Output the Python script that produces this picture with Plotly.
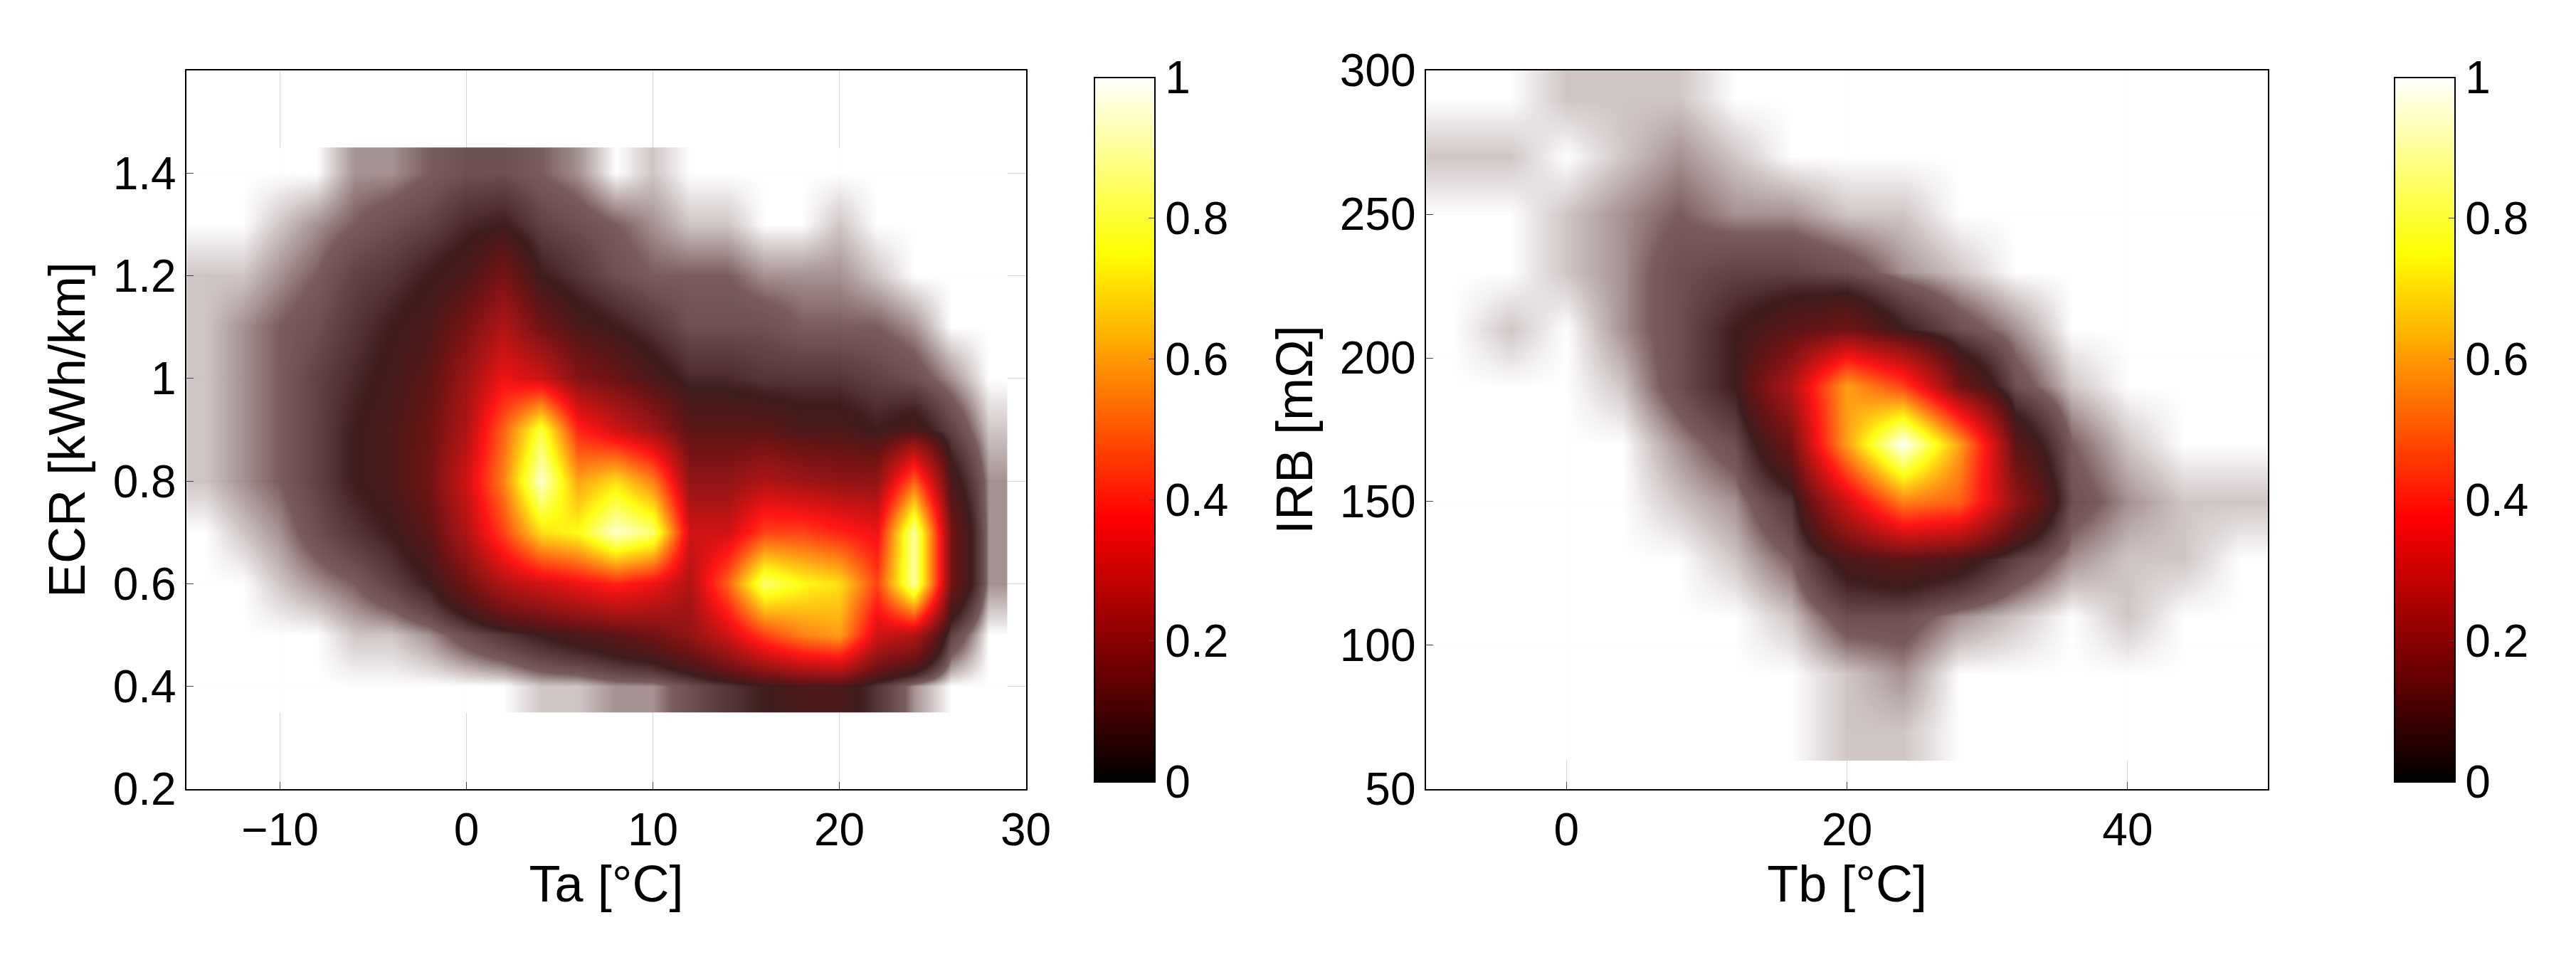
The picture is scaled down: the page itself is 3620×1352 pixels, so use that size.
import plotly.graph_objects as go

N = 0
ta = [-14,-12,-10,-8,-6,-4,-2,0,2,4,6,8,10,12,14,16,18,20,22,24,26,28]
ecr = [0.4,0.5,0.6,0.7,0.8,0.9,1.0,1.1,1.2,1.3,1.4]
dens_left = [
 [N,N,N,N,N,N,N,N,N,.01,.01,.02,.02,.04,.06,.08,.1,.1,.06,.02,N,N],
 [N,N,N,N,.01,.01,.02,.04,.06,.08,.1,.12,.15,.2,.3,.45,.55,.6,.3,.25,.05,N],
 [N,N,.01,.02,.03,.05,.08,.15,.25,.3,.35,.4,.35,.25,.5,.85,.75,.7,.45,.9,.15,.02],
 [N,.01,.02,.04,.06,.08,.12,.25,.45,.7,.75,.95,.85,.3,.3,.45,.45,.4,.35,.9,.15,.02],
 [.01,.02,.03,.05,.08,.1,.15,.3,.55,.95,.6,.7,.55,.2,.2,.25,.22,.2,.2,.5,.1,.02],
 [.01,.02,.03,.05,.08,.1,.14,.25,.5,.8,.4,.3,.22,.12,.12,.12,.1,.1,.08,.1,.05,.01],
 [.01,.02,.03,.05,.07,.09,.12,.22,.35,.3,.18,.14,.1,.07,.07,.06,.06,.06,.05,.04,.02,N],
 [.01,.02,.03,.04,.06,.08,.1,.16,.25,.15,.1,.08,.06,.04,.04,.04,.03,.03,.03,.02,N,N],
 [.01,.01,.02,.03,.05,.06,.08,.1,.16,.08,.06,.04,.03,.03,.03,.02,.02,.02,.01,N,N,N],
 [N,N,.01,.02,.03,.04,.05,.07,.08,.05,.04,.03,.02,.01,.01,N,N,.01,N,N,N,N],
 [N,N,N,N,.02,.02,.03,.04,.04,.03,.02,N,.01,N,N,N,N,N,N,N,N,N],
]
tb = [-8,-4,0,4,8,12,16,20,24,28,32,36,40,44,48]
irb = [70,90,110,130,150,170,190,210,230,250,270,290]
dens_right = [
 [N,N,N,N,N,N,N,.01,.01,N,N,N,N,N,N],
 [N,N,N,N,N,N,N,.01,.02,N,N,N,N,N,N],
 [N,N,N,N,N,N,.01,.04,.04,.02,.01,N,.01,N,N],
 [N,N,N,N,N,.01,.03,.1,.12,.1,.05,.02,.01,.01,N],
 [N,N,N,N,.01,.02,.06,.3,.55,.5,.2,.04,.02,.01,.01],
 [N,N,N,N,.02,.04,.15,.6,1.0,.6,.12,.03,.01,N,N],
 [N,N,N,.01,.04,.08,.25,.6,.45,.15,.04,.01,N,N,N],
 [N,.01,N,.02,.04,.08,.12,.15,.08,.04,.02,N,N,N,N],
 [N,N,.01,.02,.04,.05,.05,.04,.02,.01,N,N,N,N,N],
 [N,N,.01,.02,.03,.02,.02,.01,.01,N,N,N,N,N,N],
 [.01,.01,N,.01,.02,.01,N,N,N,N,N,N,N,N,N],
 [N,N,.01,.01,.01,N,N,N,N,N,N,N,N,N,N],
]

hot = [[0,"rgb(0,0,0)"],[0.375,"rgb(255,0,0)"],[0.75,"rgb(255,255,0)"],[1,"rgb(255,255,255)"]]
show = [[0,"rgb(255,255,255)"],[0.008,"rgb(215,205,205)"],[0.03,"rgb(110,80,80)"],[0.08,"rgb(45,10,10)"],
        [0.14,"rgb(95,0,0)"],[0.375,"rgb(255,0,0)"],[0.75,"rgb(255,255,0)"],[1,"rgb(255,255,255)"]]
F = "Liberation Sans, Arial"

fig = go.Figure()
def cb(x):
    return dict(x=x, xanchor="left", y=0.168, yanchor="bottom", len=0.789, lenmode="fraction",
                thickness=85, outlinewidth=2, outlinecolor="black", tickvals=[0,.2,.4,.6,.8,1],
                ticktext=["0","0.2","0.4","0.6","0.8","1"], ticks="inside", ticklen=10,
                tickfont=dict(size=64, family=F, color="black"))
fig.add_trace(go.Heatmap(x=ta, y=ecr, z=dens_left, colorscale=show, zmin=0, zmax=1, zsmooth="best",
                         xaxis="x", yaxis="y", showscale=False, opacity=0.92))
fig.add_trace(go.Heatmap(x=tb, y=irb, z=dens_right, colorscale=show, zmin=0, zmax=1, zsmooth="best",
                         xaxis="x2", yaxis="y2", showscale=False, opacity=0.92))
fig.add_trace(go.Heatmap(x=[100, 101], y=[100], z=[[0, 1]], colorscale=hot, zmin=0, zmax=1,
                         xaxis="x", yaxis="y", colorbar=cb(0.424), hoverinfo="skip"))
fig.add_trace(go.Heatmap(x=[1000, 1001], y=[1000], z=[[0, 1]], colorscale=hot, zmin=0, zmax=1,
                         xaxis="x2", yaxis="y2", colorbar=cb(0.934), hoverinfo="skip"))

ax = dict(showline=True, linecolor="black", linewidth=2, mirror=True, ticks="inside", ticklen=10,
          gridcolor="rgb(215,215,215)", zeroline=False, tickfont=dict(size=64, family=F, color="black"),
          title_font=dict(size=72, family=F, color="black"), layer="above traces")
fig.update_layout(
    width=3620, height=1352, paper_bgcolor="white", plot_bgcolor="white", margin=dict(l=0,r=0,t=0,b=0),
    xaxis=dict(ax, domain=[0.071,0.40], range=[-15,30], tickvals=[-10,0,10,20,30], title_text="Ta [°C]", anchor="y"),
    yaxis=dict(ax, domain=[0.168,0.957], range=[0.2,1.6], tickvals=[0.2,0.4,0.6,0.8,1,1.2,1.4],
               ticktext=["0.2","0.4","0.6","0.8","1","1.2","1.4"], title_text="ECR [kWh/km]", anchor="x"),
    xaxis2=dict(ax, domain=[0.557,0.887], range=[-10,50], tickvals=[0,20,40], title_text="Tb [°C]", anchor="y2"),
    yaxis2=dict(ax, domain=[0.168,0.957], range=[50,300], tickvals=[50,100,150,200,250,300],
                title_text="IRB [mΩ]", anchor="x2"),
)
fig.write_html("out.html")
